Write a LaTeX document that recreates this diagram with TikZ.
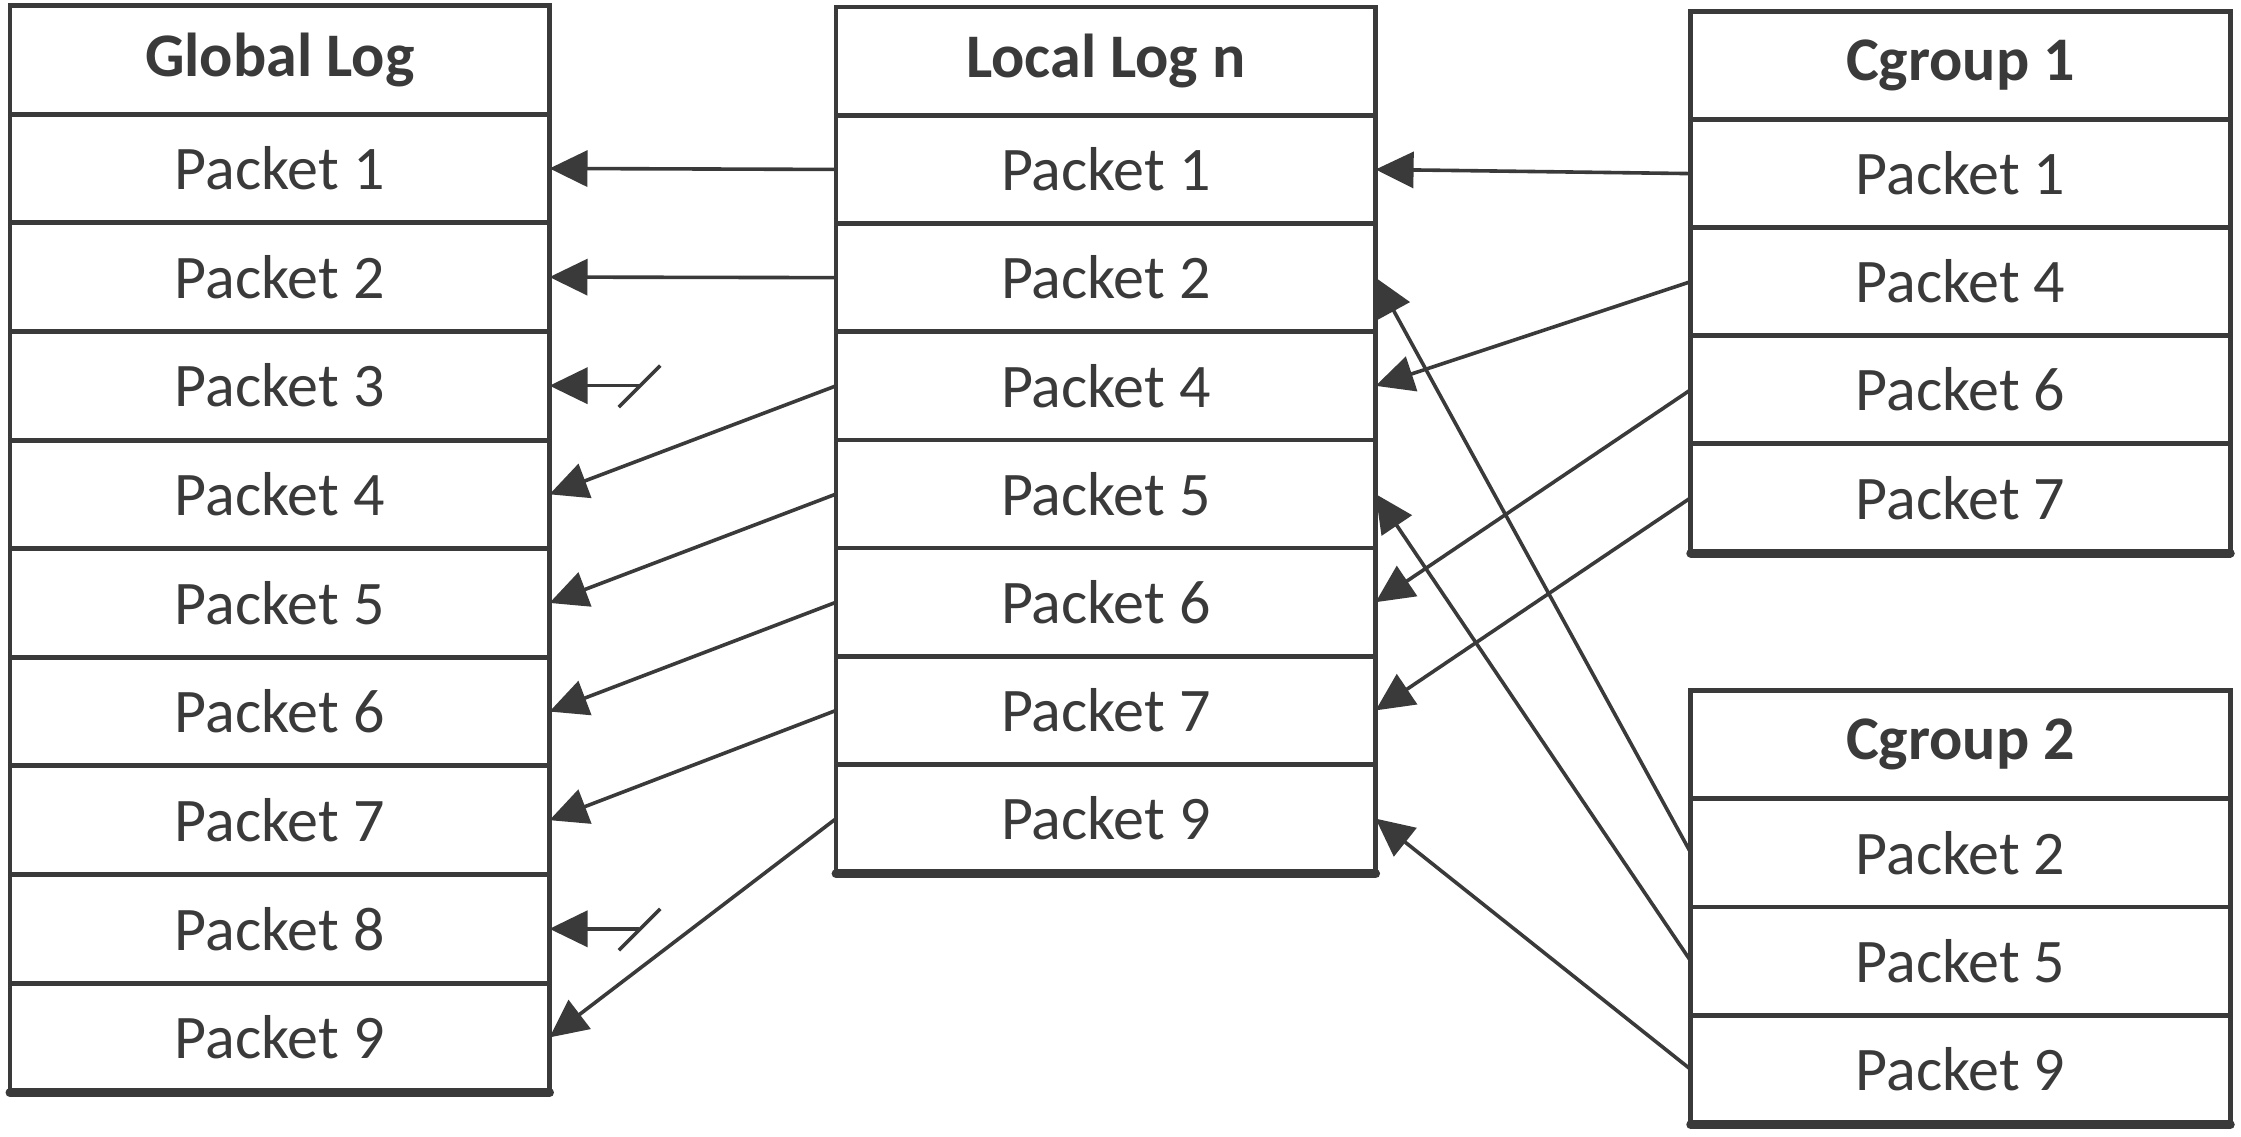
\documentclass[tikz,border=0pt]{standalone}
\usepackage{fontspec}
\setmainfont{Carlito}
\usetikzlibrary{arrows.meta,calc}
\definecolor{ink}{HTML}{3A3A3A}
\begin{document}
\begin{tikzpicture}[x=0.7145pt,y=-0.7145pt,
  cell/.style={draw=ink,line width=2.3pt,minimum width=269.7pt,minimum height=54.1pt,
    inner sep=0pt,outer sep=0pt,text=ink,font=\fontsize{31}{36}\selectfont,anchor=north west},
  head/.style={cell,font=\fontsize{31}{36}\selectfont\bfseries},
  link/.style={draw=ink,line width=1.8pt,-{Triangle[length=19pt,width=18pt]}},
  slash/.style={draw=ink,line width=1.8pt},
  base/.style={draw=ink,line width=4.5pt,line cap=round},
]
\useasboundingbox (0,0) rectangle (1568,794.9);
% Global log
\node[head] (g0) at (7,4) {Global Log};
\foreach \i in {1,...,9} \node[cell] (g\i) at (7,{4+76*\i}) {Packet \i};
% Local log
\node[head] (l0) at (585,5) {Local Log n};
\foreach \p [count=\k] in {1,2,4,5,6,7,9} \node[cell] (l\p) at (585,{5+75.7*\k}) {Packet \p};
% Cgroup 1
\node[head] (a0) at (1183,8) {Cgroup 1};
\foreach \p [count=\k] in {1,4,6,7} \node[cell] (a\p) at (1183,{8+75.6*\k}) {Packet \p};
% Cgroup 2
\node[head] (b0) at (1183,483) {Cgroup 2};
\foreach \p [count=\k] in {2,5,9} \node[cell] (b\p) at (1183,{483+75.8*\k}) {Packet \p};
% thick bottom edges
\draw[base] ([yshift=-0.6pt]g9.south west) -- ([yshift=-0.6pt]g9.south east);
\draw[base] ([yshift=-0.6pt]l9.south west) -- ([yshift=-0.6pt]l9.south east);
\draw[base] ([yshift=-0.6pt]a7.south west) -- ([yshift=-0.6pt]a7.south east);
\draw[base] ([yshift=-0.6pt]b9.south west) -- ([yshift=-0.6pt]b9.south east);
% local -> global
\foreach \p in {1,2,4,5,6,7,9} \draw[link] (l\p.west) -- (g\p.east);
% missing packets 3 and 8
\foreach \p in {3,8} {
  \coordinate (s\p) at ($(g\p.east)+(62.5,0)$);
  \draw[link] (s\p) -- (g\p.east);
  \draw[slash] ($(s\p)+(-14,15)$) -- ($(s\p)+(15,-14)$);
}
% cgroup 1 -> local
\foreach \p in {1,4,6,7} \draw[link] (a\p.west) -- (l\p.east);
% cgroup 2 -> local
\foreach \p in {2,5,9} \draw[link] (b\p.west) -- (l\p.east);
\end{tikzpicture}
\end{document}
